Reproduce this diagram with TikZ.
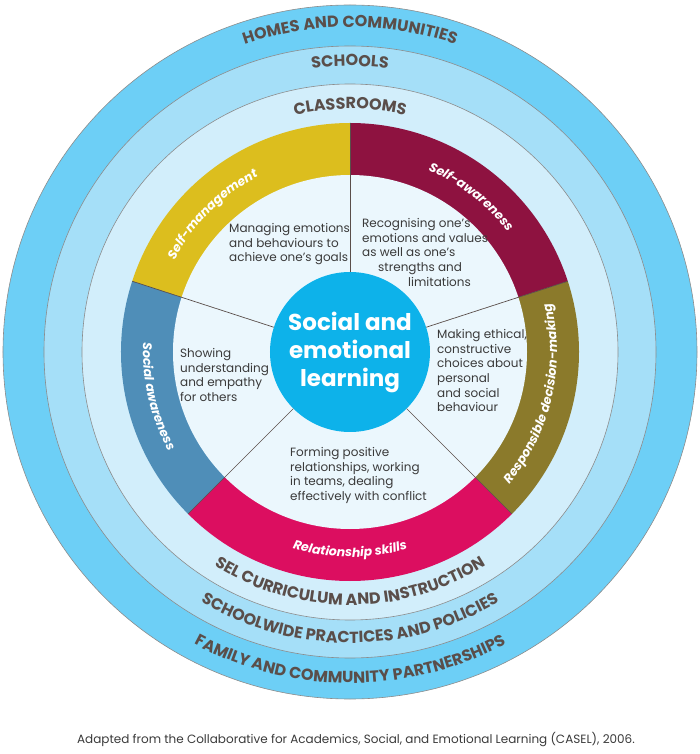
\documentclass[tikz,border=0pt]{standalone}
\usepackage{fontspec}
\setmainfont{Poppins}
\usetikzlibrary{decorations.text}

\definecolor{homesblue}{HTML}{6DCFF6}
\definecolor{schoolblue}{HTML}{A5DFF8}
\definecolor{classblue}{HTML}{D2EEFB}
\definecolor{innerblue}{HTML}{EBF7FD}
\definecolor{selcyan}{HTML}{0DB2EA}
\definecolor{manageyellow}{HTML}{DCBE1E}
\definecolor{awaremaroon}{HTML}{8E1240}
\definecolor{socialblue}{HTML}{4F8EB8}
\definecolor{relatered}{HTML}{DC0E60}
\definecolor{decideolive}{HTML}{8B7A2B}
\definecolor{ringgrey}{HTML}{5A4E4A}
\definecolor{ringline}{HTML}{8C8C8C}
\definecolor{bodygrey}{HTML}{3A3A3A}

\begin{document}
\begin{tikzpicture}[x=1pt,y=1pt,
  ringlabel/.style={decorate,decoration={text along path,text align=center,
    text={|\fontsize{16}{16}\selectfont\bfseries\color{ringgrey}|#1}}},
  bandlabel/.style={decorate,decoration={text along path,text align=center,
    text={|\fontsize{12.5}{12.5}\selectfont\bfseries\itshape\color{white}|#1}}},
  blurb/.style={anchor=north west,inner sep=0,align=left,text=bodygrey,
    font=\fontsize{12}{14.7}\selectfont}]
\useasboundingbox (-350,-402) rectangle (350,352);
\fill[homesblue] (0,0) circle[radius=347];
\fill[schoolblue] (0,0) circle[radius=306];
\fill[classblue] (0,0) circle[radius=268];
\draw[ringline,line width=.6pt] (0,0) circle[radius=347] (0,0) circle[radius=306] (0,0) circle[radius=268];
\fill[awaremaroon] (0,0) -- (18:229) arc[start angle=18,end angle=90,radius=229] -- cycle;
\fill[manageyellow] (0,0) -- (90:229) arc[start angle=90,end angle=162,radius=229] -- cycle;
\fill[socialblue] (0,0) -- (162:229) arc[start angle=162,end angle=225,radius=229] -- cycle;
\fill[relatered] (0,0) -- (225:229) arc[start angle=225,end angle=315,radius=229] -- cycle;
\fill[decideolive] (0,0) -- (315:229) arc[start angle=315,end angle=378,radius=229] -- cycle;
\fill[innerblue] (0,0) circle[radius=177];
\node[circle,fill=selcyan,minimum size=160,inner sep=0,text=white,align=center,
  font=\fontsize{23}{28}\selectfont\bfseries] (sel) at (0,0) {Social and\\emotional\\learning};
\draw[ringgrey,line width=.7pt] (sel.18) -- (18:229);
\draw[ringgrey,line width=.7pt] (sel.90) -- (90:229);
\draw[ringgrey,line width=.7pt] (sel.162) -- (162:229);
\draw[ringgrey,line width=.7pt] (sel.225) -- (225:229);
\draw[ringgrey,line width=.7pt] (sel.315) -- (315:229);
\path[bandlabel=Self-management] (175:198) arc[start angle=175,end angle=95,radius=198];
\path[bandlabel=Self-awareness] (92:198) arc[start angle=92,end angle=12,radius=198];
\path[bandlabel=Social awareness] (163:207) arc[start angle=163,end angle=223,radius=207];
\path[bandlabel=Relationship skills] (230:205) arc[start angle=230,end angle=310,radius=205];
\path[bandlabel=Responsible decision-making] (-45:207) arc[start angle=-45,end angle=19,radius=207];
\path[ringlabel=HOMES AND COMMUNITIES] (180:325) arc[start angle=180,end angle=0,radius=325];
\path[ringlabel=SCHOOLS] (180:286) arc[start angle=180,end angle=0,radius=286];
\path[ringlabel=CLASSROOMS] (180:243) arc[start angle=180,end angle=0,radius=243];
\path[ringlabel=SEL CURRICULUM AND INSTRUCTION] (180:253) arc[start angle=180,end angle=360,radius=253];
\path[ringlabel=SCHOOLWIDE PRACTICES AND POLICIES] (180:291) arc[start angle=180,end angle=360,radius=291];
\path[ringlabel=FAMILY AND COMMUNITY PARTNERSHIPS] (180:331) arc[start angle=180,end angle=360,radius=331];
\node[blurb] (manage) at (-121,129) {Managing emotions\\and behaviours to\\achieve one's goals};
\node[blurb] (aware) at (12,134) {Recognising one's\\emotions and values\\as well as one's\\\hspace*{16pt}strengths and\\\hspace*{46pt}limitations};
\node[blurb] (decide) at (87,23) {Making ethical,\\constructive\\choices about\\personal\\and social\\behaviour};
\node[blurb] (social) at (-170,4) {Showing\\understanding\\and empathy\\for others};
\node[blurb] (relate) at (-60,-95) {Forming positive\\relationships, working\\in teams, dealing\\effectively with conflict};
\node[font=\fontsize{12}{14}\selectfont,text=bodygrey] (credit) at (6,-388) {Adapted from the Collaborative for Academics, Social, and Emotional Learning (CASEL), 2006.};
\end{tikzpicture}
\end{document}
